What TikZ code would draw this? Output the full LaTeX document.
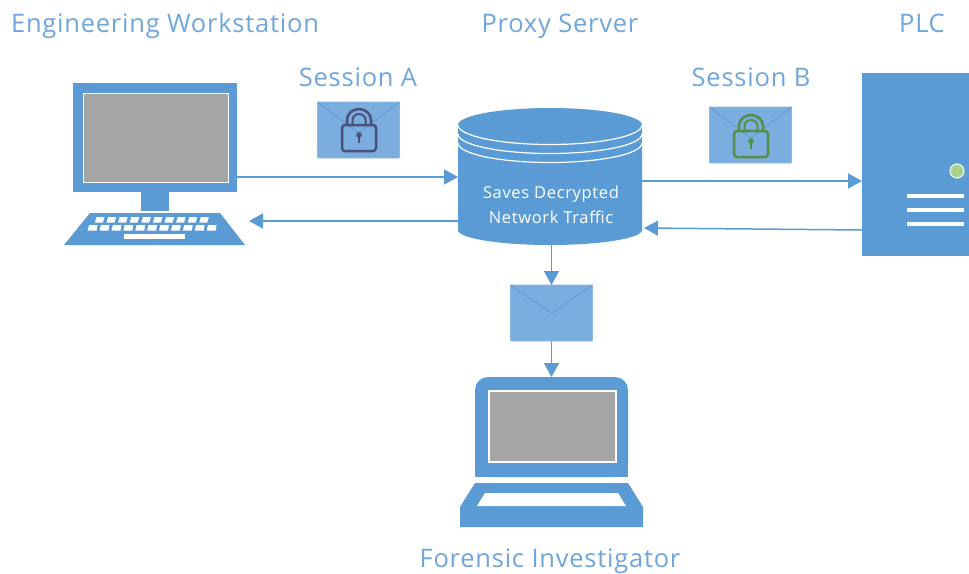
\documentclass[tikz,border=0pt]{standalone}
\usepackage{fontspec}
\setmainfont{Open Sans}
\usetikzlibrary{arrows.meta}
\definecolor{iconblue}{HTML}{5B9BD5}
\definecolor{envblue}{HTML}{7BADDE}
\definecolor{labelblue}{HTML}{6FA6DC}
\definecolor{screengray}{HTML}{A5A5A5}
\definecolor{lockdark}{HTML}{4A4F7C}
\definecolor{lockgreen}{HTML}{548F45}
\definecolor{leddot}{HTML}{A9D18E}
\newfontfamily\spacedfont[LetterSpace=3]{Open Sans}
\newfontfamily\spacedsmall[LetterSpace=4]{Open Sans}
\tikzset{
  pane/.style={draw=none,inner sep=0pt,outer sep=0pt,rectangle},
  label/.style={text=labelblue,font=\spacedfont\fontsize{25.5}{28}\selectfont,inner sep=0pt,anchor=base},
  cyltext/.style={text=white,font=\spacedsmall\fontsize{16.5}{18}\selectfont,inner sep=0pt,anchor=base},
  flow/.style={draw=iconblue,line width=1.5pt,-{Triangle[length=14pt,width=15pt]},shorten >=0pt},
  envelope/.style={pane,fill=envblue,draw=iconblue!70,line width=.8pt,rounded corners=1pt,minimum width=82pt,minimum height=56pt},
  flap/.style={draw=iconblue,line width=.8pt},
  hasp/.style={line width=2.5pt,line join=round,fill=none},
  screen/.style={pane,fill=screengray,draw=white,line width=1.6pt},
}
\newcommand{\padlock}[3]{% x, y of body's top-left, colour
  \begin{scope}[shift={(#1,#2)}]
    \draw[hasp,draw=#3,rounded corners=3pt] (1,1) rectangle (35,27);
    \draw[hasp,draw=#3] (6,1) -- (6,-4) arc[start angle=180,end angle=0,x radius=12pt,y radius=11pt] -- (30,1);
    \draw[hasp,draw=#3,line width=2pt] (11.5,1) -- (11.5,-4) arc[start angle=180,end angle=0,x radius=6.5pt,y radius=6pt] -- (24.5,1);
    \fill[#3] (18,11) circle[radius=2.8pt];
    \draw[#3,line width=2pt] (18,11) -- (18,19);
  \end{scope}}
\begin{document}
\begin{tikzpicture}[x=1pt,y=-1pt]
\useasboundingbox (0,0) rectangle (969,573);
\fill[white] (0,0) rectangle (969,573);

% texts
\node[label] (tws) at (165,32) {Engineering Workstation};
\node[label] (tps) at (560,32) {Proxy Server};
\node[label] (tplc) at (922,32) {PLC};
\node[label] (tsa) at (358,86) {Session A};
\node[label] (tsb) at (751,86) {Session B};
\node[label] (tfi) at (550,567) {Forensic Investigator};

% workstation
\node[pane,fill=iconblue,minimum width=164pt,minimum height=109pt] (monitor) at (155,137.5) {};
\node[screen,minimum width=145pt,minimum height=89pt] (wsscreen) at (156,138) {};
\node[pane,fill=iconblue,minimum width=28pt,minimum height=19pt] (stand) at (155,201.5) {};
\fill[iconblue] (90,213) -- (220,213) -- (245,245) -- (64,245) -- cycle;
\foreach \i in {0,...,9} \fill[white] ({96.5+\i*11.6},217) -- ++(8,0) -- ++(-1.6,5.5) -- ++(-8,0) -- cycle;
\foreach \i in {0,...,10} \fill[white] ({89+\i*11.9},225) -- ++(8.5,0) -- ++(-.8,5.5) -- ++(-9,0) -- cycle;
\fill[white] (124,234) rectangle (185,239);

% proxy cylinder
\fill[iconblue] (458,125) arc[start angle=180,end angle=0,x radius=92pt,y radius=17pt] -- (642,230)
  arc[start angle=0,end angle=-180,x radius=92pt,y radius=15pt] -- cycle;
\foreach \y in {125,134,143}
  \draw[white,line width=1.2pt] (458,\y) arc[start angle=180,end angle=360,x radius=92pt,y radius=19.5pt];
\node[pane,minimum width=184pt,minimum height=137pt] (proxy) at (550,176.5) {};
\node[cyltext] (pl1) at (551,198) {Saves Decrypted};
\node[cyltext] (pl2) at (551,223) {Network Traffic};

% PLC
\node[pane,fill=iconblue,minimum width=107pt,minimum height=183pt] (plc) at (915.5,164.5) {};
\node[circle,fill=leddot,draw=white!75!leddot,line width=1.2pt,minimum size=14pt,inner sep=0pt] (led) at (957,171) {};
\foreach \y in {196,210,224} \fill[white] (907,\y-2) rectangle (964,\y+2);

% envelopes
\node[envelope] (enva) at (358.5,130) {};
\draw[flap] (enva.north west) -- (358.5,133) -- (enva.north east);
\padlock{341}{124}{lockdark}
\node[envelope] (envb) at (750.5,135) {};
\draw[flap] (envb.north west) -- (750.5,138) -- (envb.north east);
\padlock{733}{130}{lockgreen}
\node[envelope] (envc) at (551.5,313) {};
\draw[flap] (envc.north west) -- (551.5,313) -- (envc.north east);

% laptop
\node[pane,fill=iconblue,minimum width=153pt,minimum height=100pt,rounded corners=13pt] (lid) at (551.5,427) {};
\fill[iconblue] (lid.south west) ++(0,-12) rectangle (lid.south east);
\node[screen,minimum width=127pt,minimum height=71pt] (lapscreen) at (552.5,426.5) {};
\fill[iconblue] (475,483) -- (628,483) -- (643,507) -- (643,527) -- (460,527) -- (460,507) -- cycle;
\fill[white] (485,493) -- (618,493) -- (626,506) -- (477,506) -- cycle;

% connectors
\coordinate (a1) at (monitor.east |- 0,177);
\coordinate (a2) at (proxy.west |- 0,177);
\coordinate (b1) at (proxy.west |- 0,221);
\coordinate (b2) at (249,221);
\coordinate (c1) at (proxy.east |- 0,181);
\coordinate (c2) at (plc.west |- 0,181);
\coordinate (d1) at (plc.west |- 0,230);
\coordinate (d2) at (644,228);
\coordinate (e1) at (envc.north |- proxy.south);
\draw[flow] (a1) -- (a2);
\draw[flow] (b1) -- (b2);
\draw[flow] (c1) -- (c2);
\draw[flow] (d1) -- (d2);
\draw[flow] (e1) -- (envc.north);
\draw[flow] (envc.south) -- (lid.north);
\end{tikzpicture}
\end{document}
